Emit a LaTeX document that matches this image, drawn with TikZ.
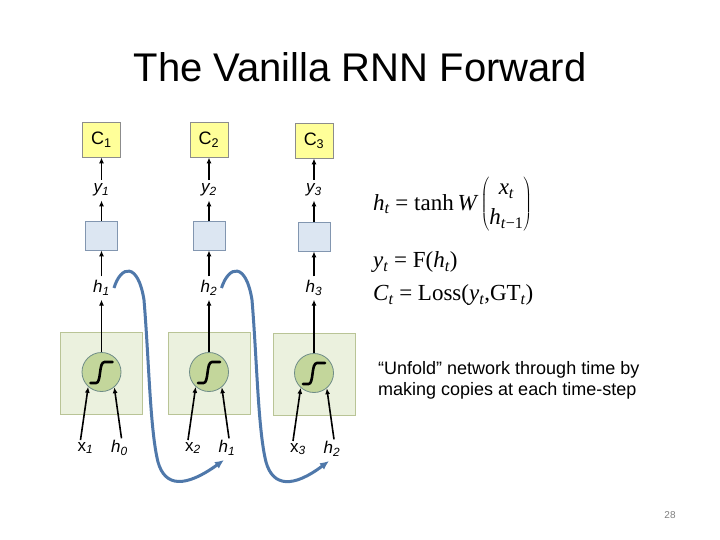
\documentclass[tikz,border=0pt]{standalone}
\usepackage{fontspec}
\setmainfont{Liberation Sans}
\newfontfamily\tnr{Liberation Serif}
\usetikzlibrary{arrows.meta,calc}
\definecolor{cyel}{RGB}{255,255,153}
\definecolor{cyelb}{RGB}{140,140,140}
\definecolor{cblu}{RGB}{220,230,242}
\definecolor{cblub}{RGB}{130,150,176}
\definecolor{cgrn}{RGB}{235,241,222}
\definecolor{cgrnb}{RGB}{185,196,150}
\definecolor{ccir}{RGB}{195,214,155}
\definecolor{ccirb}{RGB}{110,140,135}
\definecolor{carc}{RGB}{79,120,170}
\newcommand\mi[1]{{\itshape #1}}
\newcommand\sbi[1]{\textsubscript{\itshape #1}}
\begin{document}
\begin{tikzpicture}[x=1pt,y=-1pt,
  arr/.style={-{Latex[length=6pt,width=5pt]}, line width=1.6pt},
  barr/.style={-{Latex[length=9pt,width=8pt]}, line width=3pt, draw=carc},
  cbox/.style={draw=cyelb, fill=cyel, line width=0.8pt, minimum width=38pt, minimum height=35pt, inner sep=0pt, font=\fontsize{18}{20}\selectfont},
  bbox/.style={draw=cblub, fill=cblu, line width=0.8pt, minimum width=32pt, minimum height=29pt, inner sep=0pt},
  gbox/.style={draw=cgrnb, fill=cgrn, line width=0.8pt, minimum width=82pt, minimum height=82pt, inner sep=0pt},
  neuron/.style={circle, draw=ccirb, fill=ccir, line width=0.8pt, minimum size=39pt, inner sep=0pt},
  lbl/.style={font=\fontsize{17}{20}\selectfont, inner sep=4pt},
  eq/.style={anchor=west, inner sep=0pt, font=\tnr\fontsize{23}{27}\selectfont}]
\fill[white] (0,0) rectangle (720,540);
\useasboundingbox (0,0) rectangle (720,540);
\node[anchor=base, inner sep=0pt, font=\fontsize{40}{48}\selectfont] (title) at (360,82) {The Vanilla RNN Forward};
\foreach \i/\cx/\dy in {1/101.5/0, 2/209/0, 3/314/1}{
  \pgfmathtruncatemacro\j{\i-1}
  \node[cbox] (C\i) at (\cx,139.5+\dy) {C\textsubscript{\i}};
  \node[lbl] (y\i) at (\cx,190) {\mi{y}\sbi{\i}};
  \node[bbox] (b\i) at (\cx,235.5+\dy) {};
  \node[lbl] (hl\i) at (\cx,288) {\mi{h}\sbi{\i}};
  \node[gbox] (g\i) at (\cx,373+\dy) {};
  \node[neuron] (c\i) at (\cx,372+\dy) {};
  \draw[line width=2.6pt, line cap=round] ($(c\i)+(-11,11)$) -- ($(c\i)+(-5.5,11)$)
     .. controls ($(c\i)+(0,11)$) and ($(c\i)+(-3,-10)$) .. ($(c\i)+(3,-10)$) -- ($(c\i)+(11,-10)$);
  \node[lbl] (xin\i) at (\cx-16,448+\dy) {x\sbi{\i}};
  \node[lbl] (hin\i) at (\cx+18,448+\dy) {\mi{h}\sbi{\j}};
  \draw[arr] (y\i.north) -- (C\i.south);
  \draw[arr] (b\i.north) -- (y\i.south);
  \draw[arr] (hl\i.north) -- (b\i.south);
  \draw[arr] (c\i.north) -- (hl\i.south);
  \draw[arr] ($(xin\i.north)+(-5,2)$) -- (c\i.228);
  \draw[arr] ($(hin\i.north)+(2,2)$) -- (c\i.310);
}
\draw[barr] (hl1.east) .. controls (121,265) and (138,262) .. (144,300)
  .. controls (149,360) and (150,430) .. (158,462)
  .. controls (165,487) and (185,488) .. ($(hin2)+(-3,12)$);
\draw[barr] (hl2.east) .. controls (229,265) and (246,262) .. (252,300)
  .. controls (257,360) and (258,430) .. (266,462)
  .. controls (273,487) and (293,488) .. ($(hin3)+(-3,12)$);
\node[eq] (eq1) at (373,204) {\mi{h}\sbi{t} = tanh\,\mi{W}\,$\left(\vcenter{\hbox{\begin{tabular}{@{}c@{}}\mi{x}\sbi{t}\\[3pt] \mi{h}\sbi{t}\textsubscript{−1}\end{tabular}}}\right)$};
\node[eq] (eq2) at (373,262) {\mi{y}\sbi{t} = F(\mi{h}\sbi{t})};
\node[eq] (eq3) at (373,295) {\mi{C}\sbi{t} = Loss(\mi{y}\sbi{t},GT\sbi{t})};
\node[anchor=west, align=left, inner sep=0pt, font=\fontsize{18}{21}\selectfont] (note) at (378,380) {“Unfold” network through time by\\making copies at each time-step};
\node[inner sep=0pt, font=\fontsize{10}{12}\selectfont, text=gray] (pg) at (670,515) {28};
\end{tikzpicture}
\end{document}
